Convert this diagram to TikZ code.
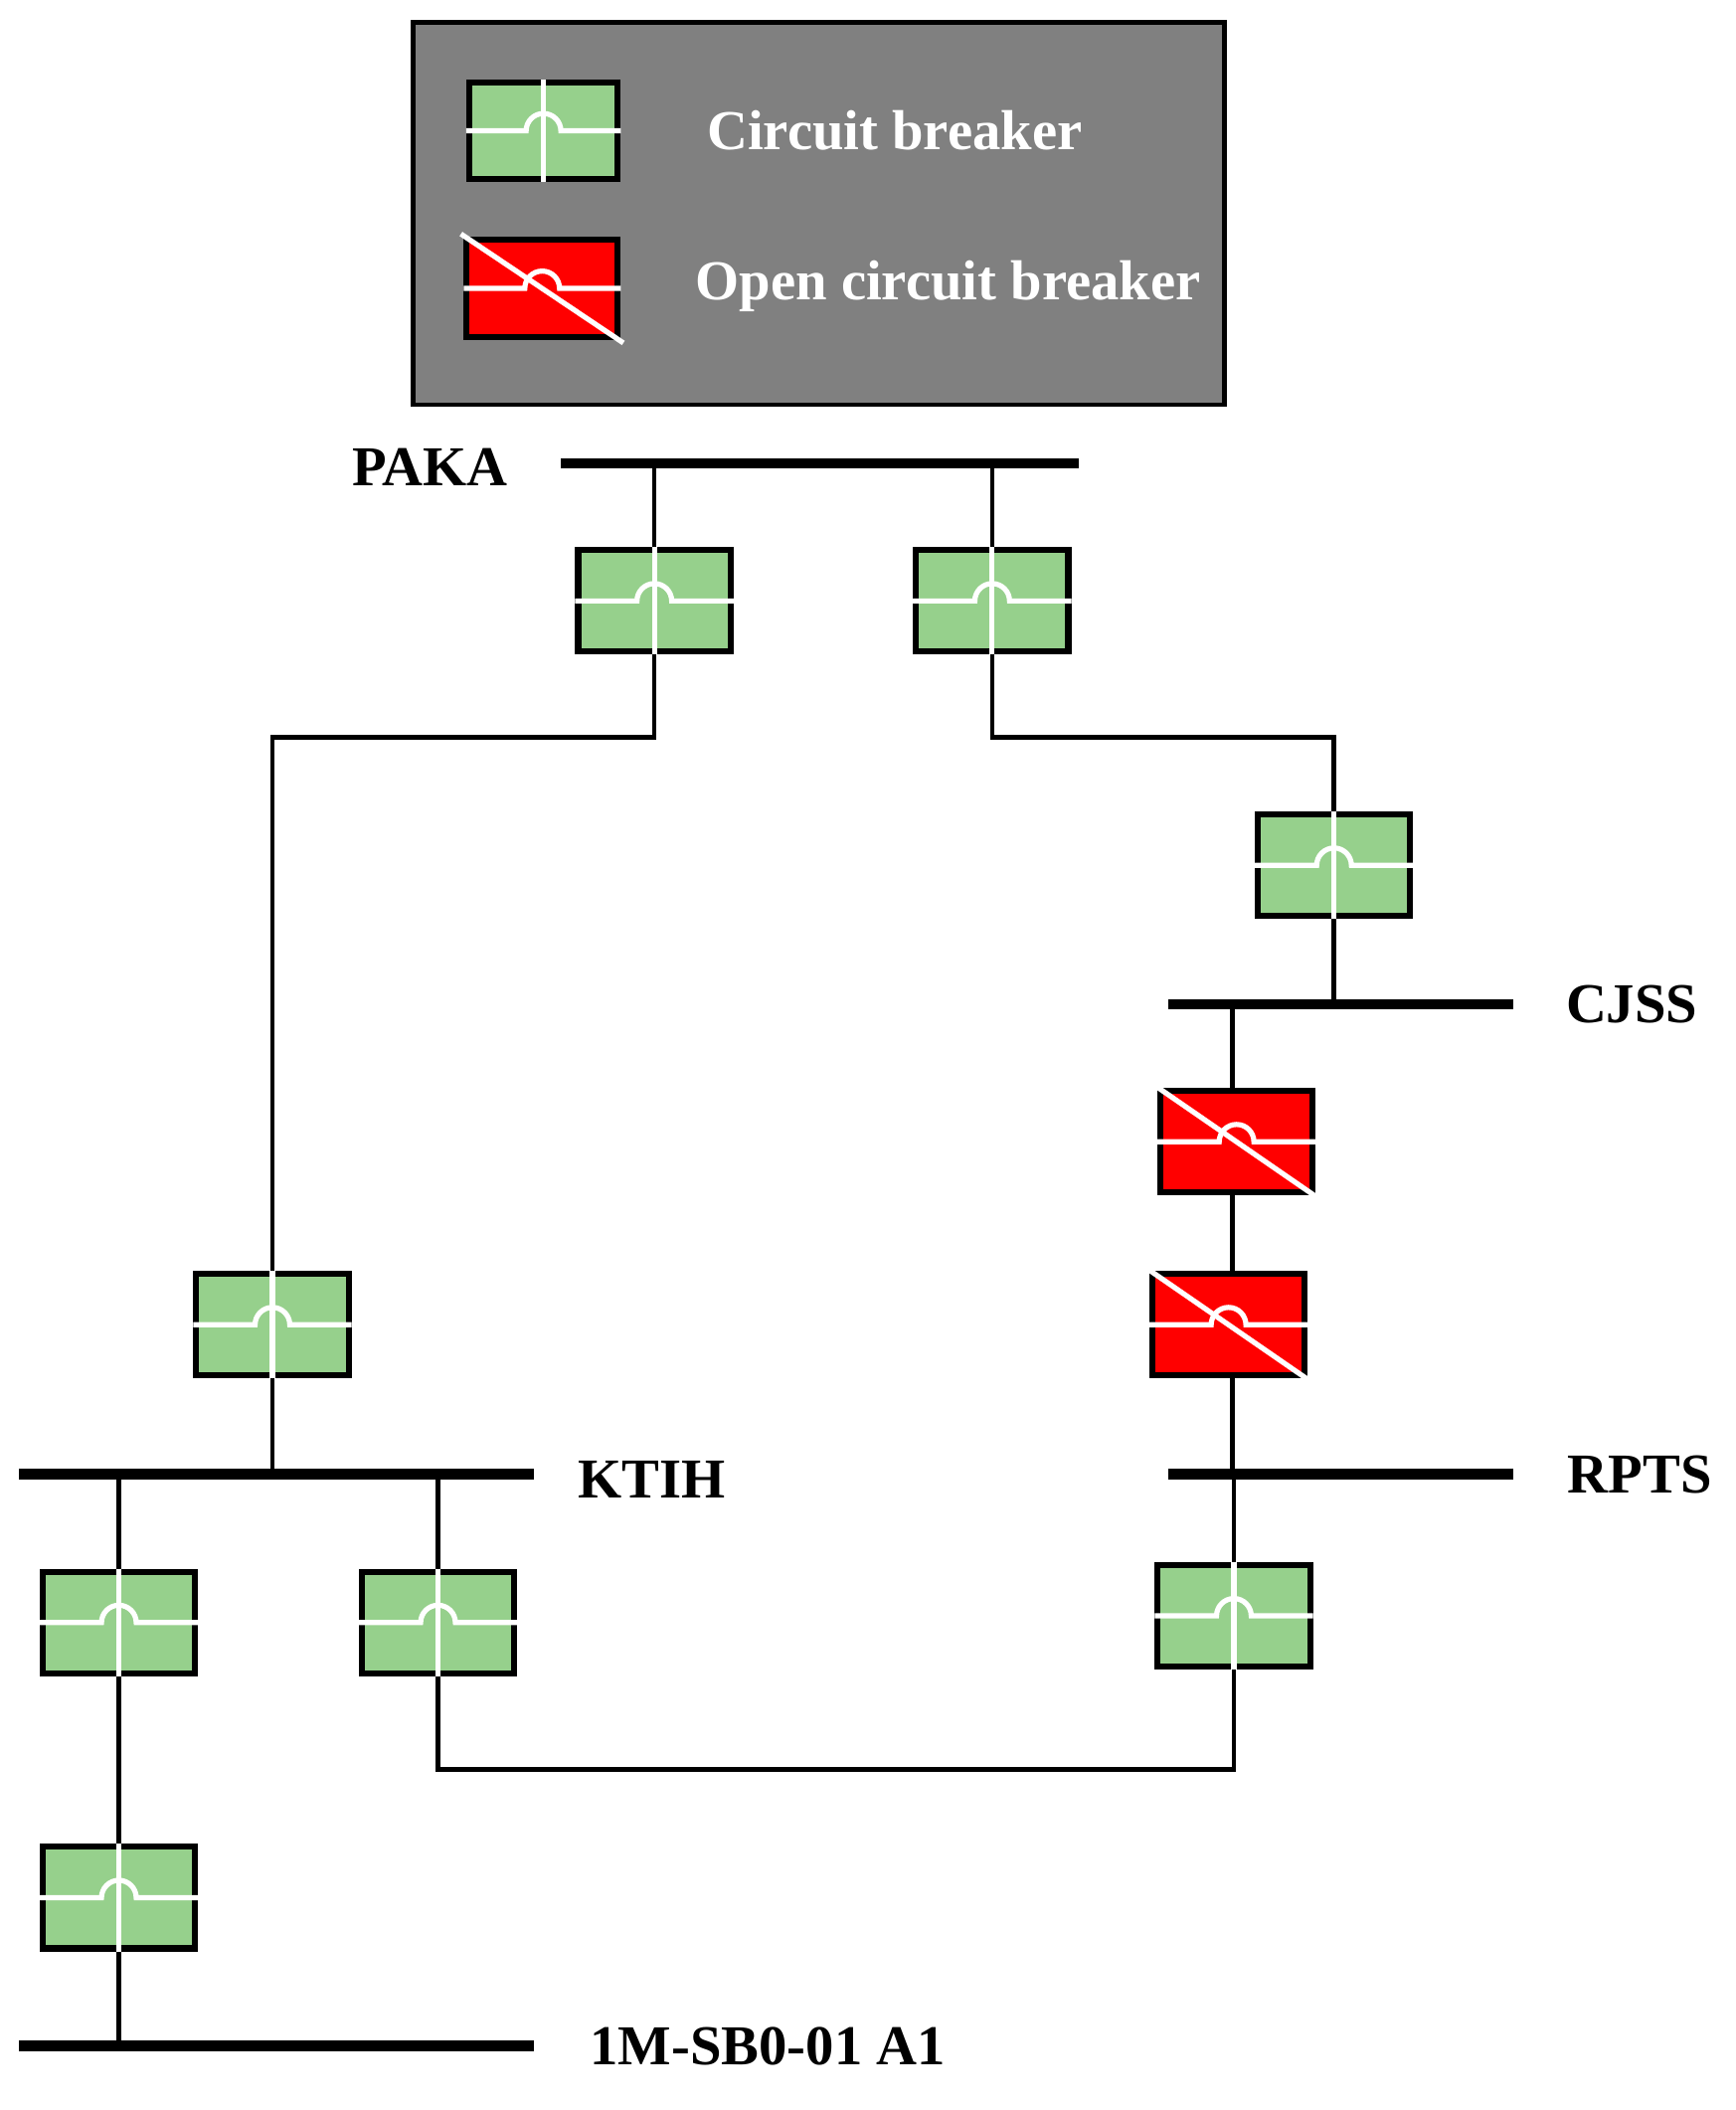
\documentclass[tikz,border=0pt]{standalone}
\usepackage{fontspec}
\setmainfont{Liberation Serif}
\usetikzlibrary{positioning}
\definecolor{cbgreen}{RGB}{150,208,140}
\definecolor{cbred}{RGB}{255,0,0}
\definecolor{boxgray}{RGB}{128,128,128}
\tikzset{
  cb/.style={rectangle, draw, line width=1.3pt, fill=cbgreen, minimum width=1.14cm, minimum height=0.76cm, inner sep=0pt},
  ocb/.style={cb, fill=cbred},
  bus/.style={rectangle, fill=black, minimum height=0.08cm, inner sep=0pt},
  wire/.style={line width=1pt},
  wmark/.style={white, line width=1.1pt},
  lbl/.style={font=\fontsize{12}{14}\selectfont\bfseries},
}
\begin{document}
\begin{tikzpicture}[x=0.01cm, y=-0.01cm]
        \useasboundingbox (0,0) rectangle (1300,1580);
        % legend
        \node [draw, line width=1pt, fill=boxgray, minimum width=6.07cm, minimum height=2.86cm, inner sep=0pt] (legend) at (613,160) {};
        \node [cb, minimum width=1.11cm, minimum height=0.72cm] (lg1) at (407,98) {};
        \node [ocb, minimum width=1.13cm, minimum height=0.73cm] (lg2) at (406,216) {};
        \node [lbl, white] (lt1) at (670,98) {Circuit breaker};
        \node [lbl, white] (lt2) at (710,214) {Open circuit breaker};

        % buses
        \node [bus, minimum width=3.88cm] (paka) at (614,347) {};
        \node [bus, minimum width=2.58cm] (cjss) at (1004,752) {};
        \node [bus, minimum width=2.58cm] (rpts) at (1004,1104) {};
        \node [bus, minimum width=3.86cm] (ktih) at (207,1104) {};
        \node [bus, minimum width=3.86cm] (sb) at (207,1532) {};
        \node [lbl] at (322,350) {PAKA};
        \node [lbl] at (1222,752) {CJSS};
        \node [lbl] at (1228,1104) {RPTS};
        \node [lbl] at (488,1108) {KTIH};
        \node [lbl] at (575,1532) {1M-SB0-01 A1};

        % breakers
        \node [cb] (b1) at (490,450) {};
        \node [cb] (b2) at (743,450) {};
        \node [cb] (b3) at (999,648) {};
        \node [ocb] (b4) at (926,855) {};
        \node [ocb] (b5) at (920,992) {};
        \node [cb] (b6) at (204,992) {};
        \node [cb] (b7) at (89,1215) {};
        \node [cb] (b8) at (328,1215) {};
        \node [cb] (b9) at (924,1210) {};
        \node [cb] (b10) at (89,1421) {};
        \coordinate (rx) at (923,0);

        \foreach \n in {lg1,lg2,b1,b2,b3,b4,b5,b6,b7,b8,b9,b10}
            \draw [wmark] (\n.west) -- ([xshift=-0.13cm]\n.center) arc (180:0:0.13cm) -- (\n.east);
        \foreach \n in {lg1,b1,b2,b3,b6,b7,b8,b9,b10}
            \draw [wmark] (\n.north) -- (\n.south);
        \foreach \n in {lg2,b4,b5}
            \draw [wmark] ([shift={(-0.02cm,0.02cm)}]\n.north west) -- ([shift={(0.02cm,-0.02cm)}]\n.south east);

        % wires
        \draw [wire] (b1.north |- paka) -- (b1.north);
        \draw [wire] (b1.south) |- (b6.north |- 0,552) -- (b6.north);
        \draw [wire] (b6.south) -- (b6.south |- ktih);
        \draw [wire] (b2.north |- paka) -- (b2.north);
        \draw [wire] (b2.south) |- (b3.north |- 0,552) -- (b3.north);
        \draw [wire] (b3.south) -- (b3.south |- cjss);
        \draw [wire] (rx |- cjss) -- (rx |- b4.north);
        \draw [wire] (rx |- b4.south) -- (rx |- b5.north);
        \draw [wire] (rx |- b5.south) -- (rx |- rpts);
        \draw [wire] (b9.north |- rpts) -- (b9.north);
        \draw [wire] (b9.south) |- (b8.south |- 0,1325) -- (b8.south);
        \draw [wire] (b8.north) -- (b8.north |- ktih);
        \draw [wire] (b7.north |- ktih) -- (b7.north);
        \draw [wire] (b7.south) -- (b10.north);
        \draw [wire] (b10.south) -- (b10.south |- sb);
\end{tikzpicture}
\end{document}
